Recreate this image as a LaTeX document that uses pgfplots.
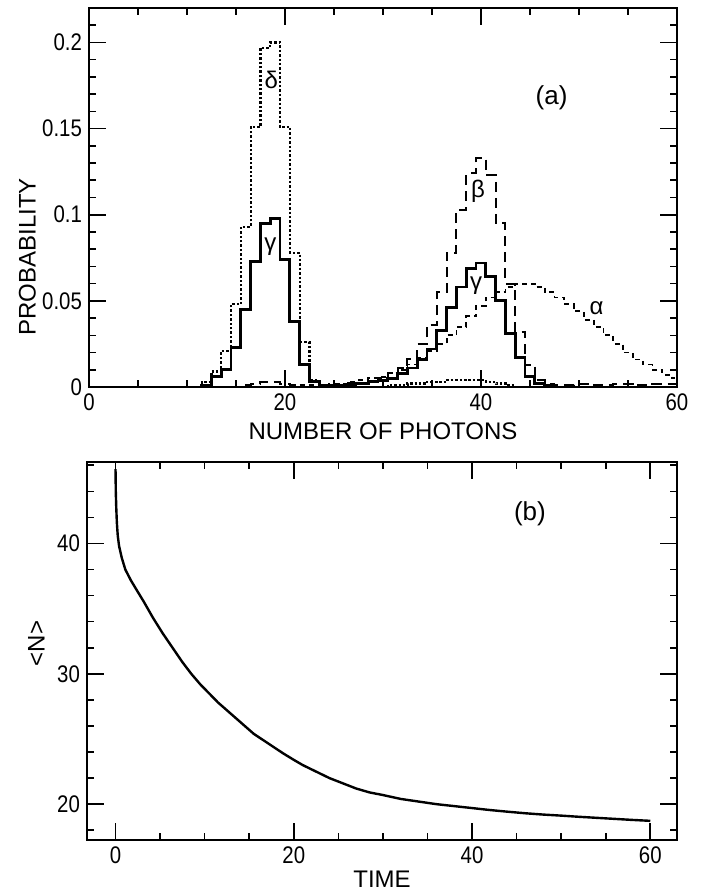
\documentclass[border=0pt]{standalone}
\usepackage{fontspec}
\setmainfont{Liberation Sans}
\newfontfamily\ticfont[FakeStretch=0.85]{Liberation Sans}
\usepackage{pgfplots}
\usepackage{pgfplotstable}
\pgfplotsset{compat=1.18}

% histograms: left bin edge, probability
\pgfplotstableread{
x y
10.5 0
11.5 0.003
12.5 0.009
13.5 0.021
14.5 0.048
15.5 0.093
16.5 0.151
17.5 0.197
18.5 0.200
19.5 0.151
20.5 0.078
21.5 0.026
22.5 0.004
23.5 0.001
24.5 0
30.5 0.001
31.5 0.001
32.5 0.002
33.5 0.002
34.5 0.003
35.5 0.003
36.5 0.004
37.5 0.004
38.5 0.004
39.5 0.004
40.5 0.003
41.5 0.002
42.5 0.001
43.5 0
60 0
}\delta

\pgfplotstableread{
x y
10.5 0
11.5 0.001
12.5 0.006
13.5 0.010
14.5 0.023
15.5 0.045
16.5 0.073
17.5 0.095
18.5 0.098
19.5 0.074
20.5 0.038
21.5 0.013
22.5 0.003
23.5 0.001
24.5 0.001
25.5 0.001
26.5 0.002
27.5 0.002
28.5 0.003
29.5 0.004
30.5 0.005
31.5 0.008
32.5 0.011
33.5 0.016
34.5 0.022
35.5 0.033
36.5 0.046
37.5 0.058
38.5 0.069
39.5 0.072
40.5 0.064
41.5 0.050
42.5 0.031
43.5 0.017
44.5 0.006
45.5 0.002
46.5 0.001
47.5 0
60 0
}\gam

\pgfplotstableread{
x y
14.5 0
15.5 0.001
16.5 0.002
17.5 0.003
18.5 0.003
19.5 0.002
20.5 0.001
21.5 0
24.5 0.001
25.5 0.001
26.5 0.001
27.5 0.002
28.5 0.003
29.5 0.005
30.5 0.008
31.5 0.011
32.5 0.016
33.5 0.025
34.5 0.036
35.5 0.055
36.5 0.078
37.5 0.103
38.5 0.124
39.5 0.133
40.5 0.123
41.5 0.095
42.5 0.060
43.5 0.032
44.5 0.013
45.5 0.004
46.5 0.002
47.5 0.001
49.5 0.002
51.5 0.001
53.5 0.002
55.5 0.001
57.5 0.002
60 0.002
}\beta

\pgfplotstableread{
x y
21.5 0.001
22.5 0.001
23.5 0.001
24.5 0.002
25.5 0.002
26.5 0.003
27.5 0.004
28.5 0.005
29.5 0.006
30.5 0.008
31.5 0.010
32.5 0.013
33.5 0.017
34.5 0.021
35.5 0.025
36.5 0.030
37.5 0.035
38.5 0.041
39.5 0.047
40.5 0.052
41.5 0.055
42.5 0.058
43.5 0.060
44.5 0.060
45.5 0.058
46.5 0.055
47.5 0.052
48.5 0.048
49.5 0.044
50.5 0.039
51.5 0.035
52.5 0.030
53.5 0.025
54.5 0.020
55.5 0.016
56.5 0.013
57.5 0.010
58.5 0.007
59.5 0.005
60 0.005
}\alpha

\pgfplotsset{
  every axis/.append style={
    scale only axis,
    axis line style={line width=1pt},
    tick style={line width=0.8pt, black},
    major tick length=8.5pt,
    minor tick length=3.5pt,
    ticklabel style={font=\ticfont\fontsize{12}{14}\selectfont},
    /pgf/number format/assume math mode=true,
    label style={font=\fontsize{12}{14}\selectfont},
  },
}

\begin{document}
\begin{tikzpicture}
\useasboundingbox (0,0) rectangle (350.5pt,446.5pt);

\begin{axis}[
  at={(44.5pt,253pt)}, anchor=south west,
  width=294pt, height=189.5pt,
  xmin=0, xmax=60, ymin=0, ymax=0.22,
  xtick={0,20,40,60}, minor xtick={5,10,15,25,30,35,45,50,55},
  ytick={0,0.05,0.1,0.15,0.2}, yticklabels={0,0.05,0.1,0.15,0.2},
  minor ytick={0.01,0.02,0.03,0.04,0.06,0.07,0.08,0.09,0.11,0.12,0.13,0.14,0.16,0.17,0.18,0.19,0.21},
  xlabel={NUMBER OF PHOTONS}, ylabel={PROBABILITY},
  xlabel style={at={(axis description cs:0.5,-0.116)}, anchor=center},
  ylabel style={at={(axis description cs:-0.105,0.343)}, anchor=center},
]
\addplot[const plot mark left, black, dash pattern=on 2.5pt off 2pt, line width=0.9pt] table {\alpha};
\addplot[const plot mark left, black, dash pattern=on 5pt off 3pt, line width=1pt] table {\beta};
\addplot[const plot mark left, black, dash pattern=on 1.2pt off 1pt, line width=1.1pt] table {\delta};
\addplot[const plot mark left, black, line width=1.4pt] table {\gam};
\node[font=\fontsize{13}{15}\selectfont] at (axis cs:47.2,0.168) {(a)};
\node[font=\fontsize{12}{14}\selectfont] at (axis cs:18.6,0.1785) {δ};
\node[font=\fontsize{12}{14}\selectfont] at (axis cs:18.5,0.0816) {γ};
\node[font=\fontsize{12}{14}\selectfont] at (axis cs:39.7,0.1135) {β};
\node[font=\fontsize{12}{14}\selectfont] at (axis cs:39.5,0.059) {γ};
\node[font=\fontsize{12}{14}\selectfont] at (axis cs:51.8,0.0457) {α};
\end{axis}

\begin{axis}[
  at={(43.5pt,26.5pt)}, anchor=south west,
  width=295pt, height=189pt,
  xmin=-3.2, xmax=63, ymin=17.25, ymax=46.25,
  xtick={0,20,40,60}, minor xtick={5,10,15,25,30,35,45,50,55},
  ytick={20,30,40}, minor ytick={18,22,24,26,28,32,34,36,38,42,44,46},
  xlabel={TIME}, ylabel={<N>},
  xlabel style={at={(axis description cs:0.5,-0.103)}, anchor=center},
  ylabel style={at={(axis description cs:-0.086,0.52)}, anchor=center},
]
\addplot[black, line width=1.2pt] coordinates {
(0,45.7) (0.03,44.0) (0.08,42.8) (0.15,41.6) (0.25,40.6) (0.4,39.8) (0.7,38.9)
(1.1,38.0) (1.7,37.2) (2.4,36.4) (3.2,35.5) (4.2,34.3) (5.3,33.1) (6.5,31.9)
(7.5,30.9) (8.5,30.0) (9.5,29.2) (10.5,28.5) (11.5,27.8) (12.5,27.2) (13.5,26.6)
(14.5,26.0) (15.5,25.4) (16.6,24.9) (17.7,24.4) (18.8,23.9) (20,23.4) (21,23.0)
(22.5,22.5) (24,22.0) (25.5,21.6) (27,21.2) (28.5,20.9) (30,20.7) (32,20.4)
(34,20.2) (36,20.0) (38,19.85) (40,19.7) (42,19.55) (44,19.42) (46,19.3)
(48,19.2) (50,19.12) (52,19.03) (54,18.95) (56,18.87) (58,18.79) (60,18.72)
};
\node[font=\fontsize{13}{15}\selectfont] at (axis cs:46.5,42.3) {(b)};
\end{axis}
\end{tikzpicture}
\end{document}
